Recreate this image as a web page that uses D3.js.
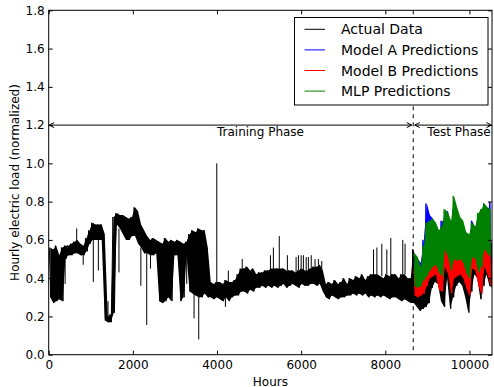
<!DOCTYPE html>
<html>
<head>
<meta charset="utf-8">
<script src="https://cdn.jsdelivr.net/npm/d3@7"></script>
<style>
  body { margin: 0; background: #fff; }
  svg { display: block; font-family: "DejaVu Sans", sans-serif; }
</style>
</head>
<body>
<div id="chart"></div>
<script>
// hourly load: the dense band as [low, high] per 72-hour block
const binHours = 72;
const actualBand = [
  [0.30,0.56],[0.27,0.55],[0.28,0.57],[0.29,0.52],[0.28,0.56],[0.50,0.57],[0.52,0.57],[0.52,0.58],
  [0.53,0.59],[0.53,0.60],[0.52,0.58],[0.52,0.57],[0.54,0.61],[0.58,0.65],[0.60,0.69],[0.60,0.68],
  [0.60,0.68],[0.60,0.68],[0.18,0.63],[0.17,0.20],[0.17,0.21],[0.22,0.72],[0.68,0.74],[0.66,0.73],
  [0.63,0.73],[0.60,0.72],[0.60,0.71],[0.62,0.72],[0.62,0.77],[0.58,0.75],[0.56,0.68],[0.53,0.65],
  [0.53,0.62],[0.52,0.60],[0.52,0.61],[0.53,0.60],[0.28,0.59],[0.27,0.58],[0.28,0.61],[0.30,0.59],
  [0.28,0.60],[0.52,0.59],[0.52,0.60],[0.28,0.59],[0.30,0.58],[0.52,0.59],[0.33,0.63],[0.32,0.65],
  [0.31,0.64],[0.30,0.66],[0.30,0.65],[0.32,0.65],[0.30,0.56],[0.30,0.38],[0.29,0.37],[0.30,0.38],
  [0.29,0.38],[0.28,0.37],[0.30,0.39],[0.28,0.38],[0.30,0.38],[0.31,0.39],[0.31,0.42],[0.33,0.45],
  [0.33,0.45],[0.32,0.46],[0.34,0.44],[0.33,0.45],[0.35,0.42],[0.35,0.43],[0.36,0.43],[0.35,0.44],
  [0.36,0.44],[0.35,0.45],[0.36,0.45],[0.35,0.45],[0.36,0.45],[0.37,0.45],[0.35,0.44],[0.36,0.44],
  [0.37,0.44],[0.36,0.43],[0.35,0.44],[0.37,0.45],[0.36,0.44],[0.36,0.44],[0.37,0.45],[0.37,0.46],
  [0.36,0.46],[0.37,0.47],[0.33,0.44],[0.30,0.37],[0.29,0.38],[0.31,0.37],[0.30,0.39],[0.29,0.37],
  [0.30,0.38],[0.30,0.40],[0.31,0.37],[0.31,0.40],[0.32,0.39],[0.31,0.41],[0.32,0.40],[0.31,0.42],
  [0.32,0.39],[0.30,0.41],[0.31,0.42],[0.30,0.42],[0.31,0.42],[0.30,0.41],[0.31,0.40],[0.30,0.42],
  [0.29,0.41],[0.30,0.42],[0.30,0.42],[0.29,0.40],[0.28,0.42],[0.29,0.42],[0.28,0.40],[0.27,0.40],
  [0.27,0.55],[0.25,0.45],[0.23,0.42],[0.24,0.44],[0.25,0.50],[0.27,0.58],[0.35,0.60],[0.38,0.60],
  [0.37,0.58],[0.28,0.52],[0.25,0.54],[0.40,0.62],[0.24,0.60],[0.30,0.55],[0.36,0.65],[0.38,0.62],
  [0.36,0.60],[0.30,0.56],[0.22,0.50],[0.33,0.55],[0.42,0.60],[0.40,0.58],[0.29,0.56],[0.36,0.60],
  [0.42,0.62],[0.36,0.60],[0.35,0.58]
];
// single-hour excursions outside the band: [hour, value]
const actualSpikes = [
  [390,0.37],[665,0.66],[820,0.47],[1060,0.38],[1180,0.44],[1410,0.28],[1553,0.38],[1670,0.43],
  [2190,0.36],[2330,0.155],[2420,0.45],[3280,0.37],[3455,0.19],[3566,0.08],[3995,1.00],[4200,0.25],
  [4270,0.44],[4600,0.50],[5270,0.52],[5340,0.56],[5480,0.62],[5673,0.52],[5880,0.51],[5935,0.52],
  [6000,0.52],[6053,0.52],[6120,0.51],[6172,0.51],[6240,0.52],[6330,0.50],[6410,0.50],[6490,0.49],
  [7720,0.55],[7800,0.56],[7917,0.58],[8036,0.55],[8131,0.61],[8415,0.60],[8470,0.58],[8655,0.55]
];

// predictions over the test phase, same 72-hour blocks starting at the split
const testStart = 8664;
const modelABand = [
  [0.36,0.50],[0.34,0.50],[0.35,0.48],[0.40,0.60],[0.42,0.79],[0.45,0.73],[0.44,0.71],[0.43,0.66],
  [0.42,0.62],[0.42,0.70],[0.52,0.69],[0.50,0.75],[0.45,0.66],[0.49,0.76],[0.48,0.75],[0.47,0.70],
  [0.47,0.68],[0.42,0.62],[0.42,0.60],[0.47,0.70],[0.48,0.66],[0.44,0.70],[0.46,0.73],[0.50,0.79],
  [0.50,0.74],[0.50,0.80]
];
const modelBBand = [
  [0.31,0.46],[0.30,0.44],[0.31,0.42],[0.32,0.47],[0.36,0.55],[0.40,0.58],[0.41,0.58],[0.42,0.56],
  [0.34,0.54],[0.33,0.55],[0.46,0.58],[0.42,0.57],[0.32,0.56],[0.40,0.60],[0.41,0.60],[0.42,0.58],
  [0.40,0.56],[0.35,0.55],[0.31,0.53],[0.45,0.58],[0.44,0.57],[0.36,0.57],[0.32,0.58],[0.46,0.60],
  [0.42,0.58],[0.36,0.56]
];
const mlpBand = [
  [0.36,0.53],[0.35,0.51],[0.36,0.46],[0.39,0.57],[0.41,0.69],[0.44,0.70],[0.46,0.71],[0.47,0.69],
  [0.43,0.65],[0.41,0.67],[0.55,0.76],[0.51,0.74],[0.44,0.70],[0.50,0.83],[0.49,0.77],[0.50,0.72],
  [0.48,0.70],[0.43,0.64],[0.40,0.63],[0.51,0.69],[0.50,0.67],[0.43,0.74],[0.46,0.76],[0.55,0.79],
  [0.53,0.77],[0.51,0.76]
];

const legendNames = ["Actual Data", "Model A Predictions", "Model B Predictions", "MLP Predictions"];
const seriesColors = ["#000000", "#0000ff", "#ff0000", "#008000"];
const xTicks = [0, 2000, 4000, 6000, 8000, 10000];
const yTicks = [0, 0.2, 0.4, 0.6, 0.8, 1.0, 1.2, 1.4, 1.6, 1.8];
const totalHours = 10536;

const W = 494, H = 387;
const margin = {top: 10.3, right: 2, bottom: 32.3, left: 48.7};
const width = W - margin.left - margin.right;
const height = H - margin.top - margin.bottom;

const svg = d3.select("#chart").append("svg")
    .attr("width", W)
    .attr("height", H);

const g = svg.append("g")
    .attr("transform", `translate(${margin.left},${margin.top})`);

const x = d3.scaleLinear().domain([0, totalHours]).range([0, width]);
const y = d3.scaleLinear().domain([0, 1.8]).range([height, 0]);

g.append("clipPath").attr("id", "plotclip")
    .append("rect").attr("width", width).attr("height", height);

const plot = g.append("g").attr("clip-path", "url(#plotclip)");

function toBins(ranges, start) {
    return ranges.map((r, i) => ({h: start + i * binHours, lo: r[0], hi: r[1]}));
}

function drawSeries(bins, spikes, color) {
    // body of the dense hourly trace
    plot.append("path")
        .datum(bins)
        .attr("d", d3.area()
            .x(d => x(d.h + binHours / 2))
            .y0(d => y(d.lo))
            .y1(d => y(d.hi)))
        .attr("fill", color);

    // ragged edge: high then low inside each block
    const pts = [];
    bins.forEach(d => {
        pts.push([d.h + binHours * 0.2, d.hi]);
        pts.push([d.h + binHours * 0.7, d.lo]);
    });
    plot.append("path")
        .datum(pts)
        .attr("d", d3.line().x(p => x(p[0])).y(p => y(p[1])))
        .attr("fill", "none")
        .attr("stroke", color)
        .attr("stroke-width", 1);

    // thin spikes leaving the band
    const start = bins[0].h;
    plot.selectAll(null)
        .data(spikes)
        .join("line")
        .attr("x1", d => x(d[0])).attr("x2", d => x(d[0]))
        .attr("y1", d => {
            const b = bins[Math.min(bins.length - 1, Math.floor((d[0] - start) / binHours))];
            return y(d[1] > b.hi ? b.hi : b.lo);
        })
        .attr("y2", d => y(d[1]))
        .attr("stroke", color)
        .attr("stroke-width", 1);
}

drawSeries(toBins(actualBand, 0), actualSpikes, seriesColors[0]);
drawSeries(toBins(modelABand, testStart), [], seriesColors[1]);
drawSeries(toBins(modelBBand, testStart), [], seriesColors[2]);
drawSeries(toBins(mlpBand, testStart), [], seriesColors[3]);

// split line
g.append("line")
    .attr("x1", x(testStart)).attr("x2", x(testStart))
    .attr("y1", 0).attr("y2", height)
    .attr("stroke", "#000")
    .attr("stroke-width", 1)
    .attr("stroke-dasharray", "4,4");

// axes, ticks pointing inward on all four sides
const axisFont = g => g.selectAll("text")
    .attr("font-size", 12)
    .attr("font-family", "DejaVu Sans")
    .attr("fill", "#000");

g.append("g")
    .attr("transform", `translate(0,${height})`)
    .call(d3.axisBottom(x).tickValues(xTicks).tickFormat(d3.format("d")).tickSize(-4).tickPadding(6))
    .call(axisFont)
    .call(a => a.select(".domain").remove());
g.append("g")
    .call(d3.axisTop(x).tickValues(xTicks).tickFormat("").tickSize(-4))
    .call(a => a.select(".domain").remove());
g.append("g")
    .call(d3.axisLeft(y).tickValues(yTicks).tickFormat(d3.format(".1f")).tickSize(-4).tickPadding(4))
    .call(axisFont)
    .call(a => a.select(".domain").remove());
g.append("g")
    .attr("transform", `translate(${width},0)`)
    .call(d3.axisRight(y).tickValues(yTicks).tickFormat("").tickSize(-4))
    .call(a => a.select(".domain").remove());

g.selectAll(".tick line").attr("stroke", "#000");

g.append("rect")
    .attr("width", width).attr("height", height)
    .attr("fill", "none")
    .attr("stroke", "#000")
    .attr("stroke-width", 1);

// phase annotations
const defs = svg.append("defs");
defs.append("marker")
    .attr("id", "head")
    .attr("viewBox", "-6 -4 8 8")
    .attr("refX", 0).attr("refY", 0)
    .attr("markerWidth", 8).attr("markerHeight", 8)
    .attr("markerUnits", "userSpaceOnUse")
    .attr("orient", "auto-start-reverse")
    .append("path")
    .attr("d", "M-5,-2.5L0,0L-5,2.5")
    .attr("fill", "none")
    .attr("stroke", "#000")
    .attr("stroke-width", 1);

const yArrow = y(1.2);
g.append("line")
    .attr("x1", x(0) + 0.5).attr("x2", x(testStart) - 1.5)
    .attr("y1", yArrow).attr("y2", yArrow)
    .attr("stroke", "#000").attr("stroke-width", 1)
    .attr("marker-start", "url(#head)").attr("marker-end", "url(#head)");
g.append("line")
    .attr("x1", x(testStart) + 1.5).attr("x2", width - 0.5)
    .attr("y1", yArrow).attr("y2", yArrow)
    .attr("stroke", "#000").attr("stroke-width", 1)
    .attr("marker-start", "url(#head)").attr("marker-end", "url(#head)");

g.append("text")
    .attr("x", x(4000)).attr("y", yArrow + 10.5)
    .attr("font-size", 12)
    .text("Training Phase");
g.append("text")
    .attr("x", x(9000)).attr("y", yArrow + 10.5)
    .attr("font-size", 12)
    .text("Test Phase");

// legend
const lg = svg.append("g").attr("transform", "translate(294.5,17.5)");
lg.append("rect")
    .attr("width", 193.5).attr("height", 87.5)
    .attr("fill", "#fff")
    .attr("stroke", "#000")
    .attr("stroke-width", 1);
legendNames.forEach((name, i) => {
    const ry = 11.8 + i * 20.6;
    lg.append("line")
        .attr("x1", 10).attr("x2", 30.5)
        .attr("y1", ry).attr("y2", ry)
        .attr("stroke", seriesColors[i])
        .attr("stroke-width", 1);
    lg.append("text")
        .attr("x", 46.5).attr("y", ry + 5)
        .attr("font-size", 14)
        .text(name);
});

// axis titles
svg.append("text")
    .attr("x", margin.left + width / 2).attr("y", 385.5)
    .attr("text-anchor", "middle")
    .attr("font-size", 12)
    .text("Hours");
svg.append("text")
    .attr("transform", `translate(18.5,${margin.top + height / 2}) rotate(-90)`)
    .attr("text-anchor", "middle")
    .attr("font-size", 12)
    .text("Hourly electric load (normalized)");
</script>
</body>
</html>
